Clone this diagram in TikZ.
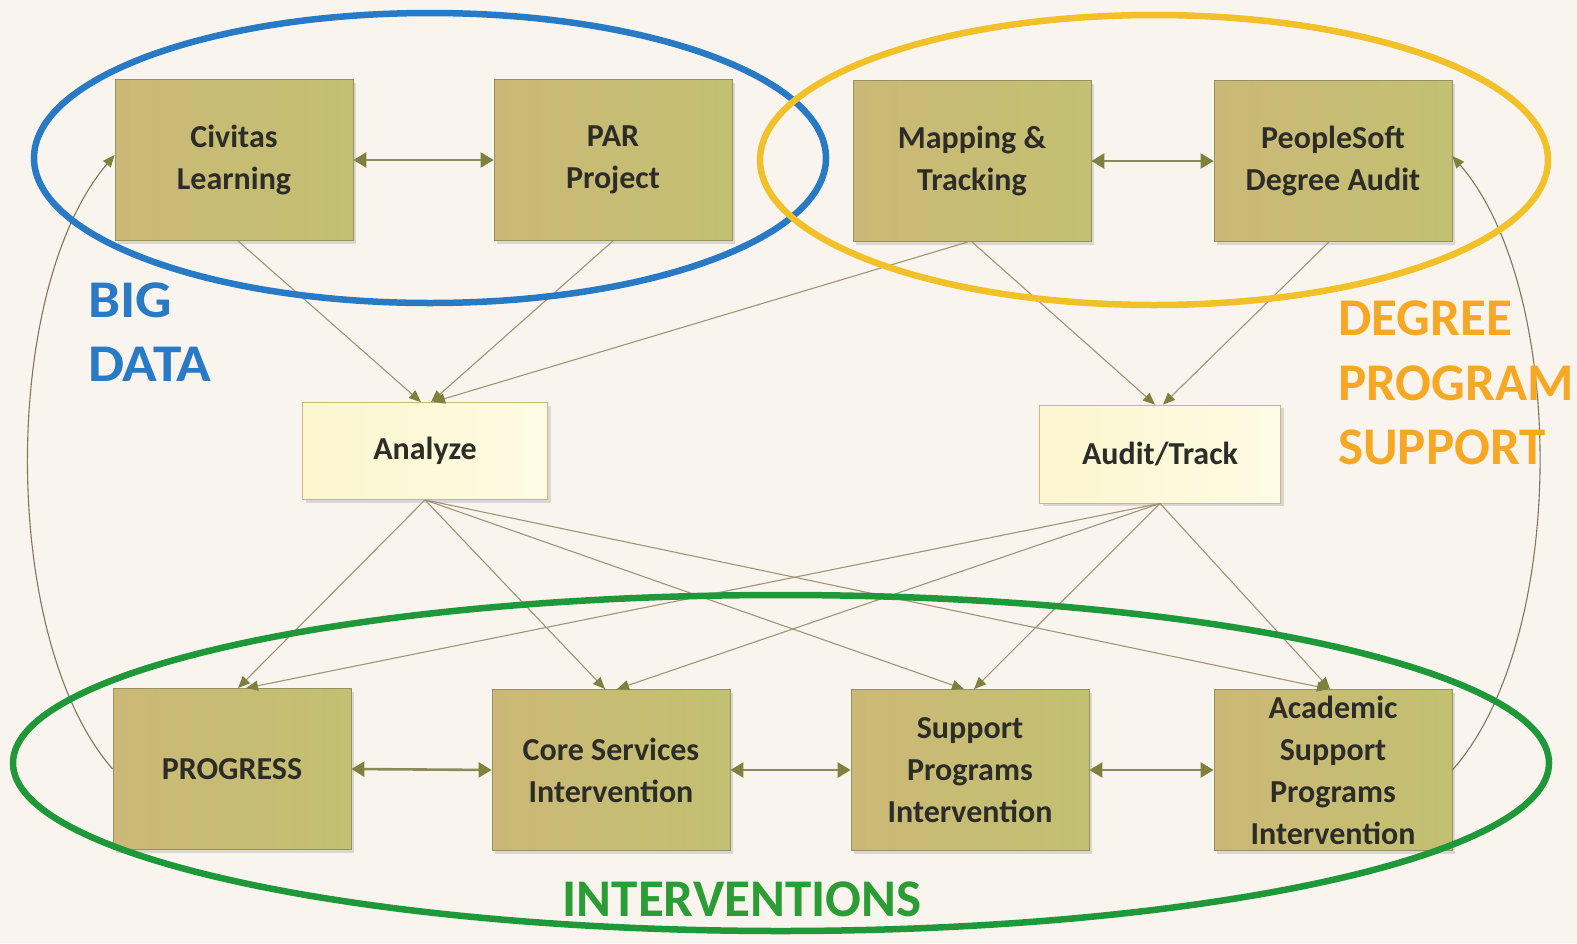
\documentclass[tikz,border=0pt]{standalone}
\usepackage{fontspec}
\setmainfont{Carlito}
\usetikzlibrary{arrows.meta,shadows}
\definecolor{bgc}{RGB}{249,245,238}
\definecolor{boxl}{RGB}{204,184,118}
\definecolor{boxr}{RGB}{194,192,114}
\definecolor{boxd}{RGB}{150,146,96}
\definecolor{litel}{RGB}{252,246,206}
\definecolor{liter}{RGB}{253,251,228}
\definecolor{lited}{RGB}{196,186,130}
\definecolor{linec}{RGB}{160,148,118}
\definecolor{tipc}{RGB}{128,128,62}
\definecolor{harr}{RGB}{142,138,88}
\definecolor{txt}{RGB}{45,45,40}
\definecolor{bluec}{RGB}{40,122,196}
\definecolor{yelc}{RGB}{242,192,40}
\definecolor{orac}{RGB}{246,168,36}
\definecolor{grnc}{RGB}{30,152,56}
\definecolor{grnt}{RGB}{44,156,52}
\tikzset{
  bigbox/.style={draw=boxd, line width=0.8pt, left color=boxl, right color=boxr,
    minimum width=238pt, minimum height=161pt, inner sep=0pt, align=center,
    text=txt, font=\fontsize{32}{42}\selectfont\bfseries,
    drop shadow={shadow xshift=3pt, shadow yshift=-3pt, opacity=0.25}},
  litebox/.style={draw=lited, line width=0.8pt, left color=litel, right color=liter,
    minimum width=245pt, minimum height=97pt, inner sep=0pt, align=center,
    text=txt, font=\fontsize{32}{42}\selectfont\bfseries,
    drop shadow={shadow xshift=3pt, shadow yshift=-3pt, opacity=0.25}},
  thinarrow/.style={draw=linec, line width=1.1pt,
    -{Triangle[length=12pt,width=10pt,color=tipc]}},
  thincurve/.style={draw=linec!80!black, line width=1.1pt,
    -{Triangle[length=12pt,width=10pt,color=tipc]}},
  dblarrow/.style={draw=harr, line width=2.6pt,
    {Triangle[length=13pt,width=15pt,color=tipc]}-{Triangle[length=13pt,width=15pt,color=tipc]}},
  ring/.style={line width=6.5pt},
  grouplabel/.style={font=\fontsize{53}{64}\selectfont\bfseries, inner sep=0pt}
}
\begin{document}
\begin{tikzpicture}[x=1pt,y=-1pt]
\fill[bgc] (0,0) rectangle (1577,943);
\useasboundingbox (0,0) rectangle (1577,943);

% boxes
\node[bigbox] (civ) at (234,160) {Civitas\\Learning};
\node[bigbox] (par) at (613,160) {PAR\\Project};
\node[bigbox] (map) at (972,161) {Mapping \&\\Tracking};
\node[bigbox] (ps)  at (1333,161) {PeopleSoft\\Degree Audit};
\node[litebox] (ana) at (425,451) {Analyze};
\node[litebox, minimum width=241pt, minimum height=98pt] (aud) at (1160,454) {Audit/Track};
\node[bigbox] (prog) at (232,769) {PROGRESS};
\node[bigbox] (core) at (611,770) {Core Services\\Intervention};
\node[bigbox] (supp) at (970,770) {Support\\Programs\\Intervention};
\node[bigbox] (acad) at (1333,770) {Academic\\Support\\Programs\\Intervention};

% thin connectors
\draw[thinarrow] ([xshift=4pt]civ.south) -- ([xshift=-4pt]ana.north);
\draw[thinarrow] (par.south) -- ([xshift=6pt]ana.north);
\draw[thinarrow] ([xshift=-4pt]map.south) -- ([xshift=8pt]ana.north);
\draw[thinarrow] (map.south) -- ([xshift=-5pt]aud.north);
\draw[thinarrow] ([xshift=-4pt]ps.south) -- ([xshift=3pt]aud.north);

\draw[thinarrow] (ana.south) -- ([xshift=6pt]prog.north);
\draw[thinarrow] (ana.south) -- ([xshift=-6pt]core.north);
\draw[thinarrow] (ana.south) -- ([xshift=-6pt]supp.north);
\draw[thinarrow] (ana.south) -- ([xshift=-4pt]acad.north);
\draw[thinarrow] (aud.south) -- ([xshift=14pt]prog.north);
\draw[thinarrow] (aud.south) -- ([xshift=6pt]core.north);
\draw[thinarrow] (aud.south) -- ([xshift=4pt]supp.north);
\draw[thinarrow] (aud.south) -- ([xshift=-3pt]acad.north);

% curved feedback connectors
\draw[thincurve] (prog.west) .. controls (0,640) and (0,290) .. ([yshift=5pt]civ.west);
\draw[thincurve] (acad.east) .. controls (1568,640) and (1568,290) .. ([yshift=5pt]ps.east);

% horizontal double arrows
\draw[dblarrow] (civ.east) -- (par.west);
\draw[dblarrow] (map.east) -- (ps.west);
\draw[dblarrow] (prog.east) -- (core.west);
\draw[dblarrow] (core.east) -- (supp.west);
\draw[dblarrow] (supp.east) -- (acad.west);

% group ellipses
\draw[ring, draw=bluec] (430,158) ellipse [x radius=396pt, y radius=145pt];
\draw[ring, draw=yelc] (1154,160) ellipse [x radius=394pt, y radius=145pt];
\draw[ring, draw=grnc] (781,763) ellipse [x radius=768pt, y radius=168pt];

% group labels
\node[grouplabel, text=bluec, anchor=base west, xscale=1.08] (lbig) at (88,317) {BIG};
\node[grouplabel, text=bluec, anchor=base west, xscale=1.08] (ldata) at (88,381) {DATA};
\node[grouplabel, text=orac, anchor=base west] (ldeg) at (1338,335) {DEGREE};
\node[grouplabel, text=orac, anchor=base west] (lprog) at (1338,400) {PROGRAM};
\node[grouplabel, text=orac, anchor=base west] (lsup) at (1338,464) {SUPPORT};
\node[grouplabel, text=grnt, anchor=base] (lint) at (742,916) {INTERVENTIONS};
\end{tikzpicture}
\end{document}
